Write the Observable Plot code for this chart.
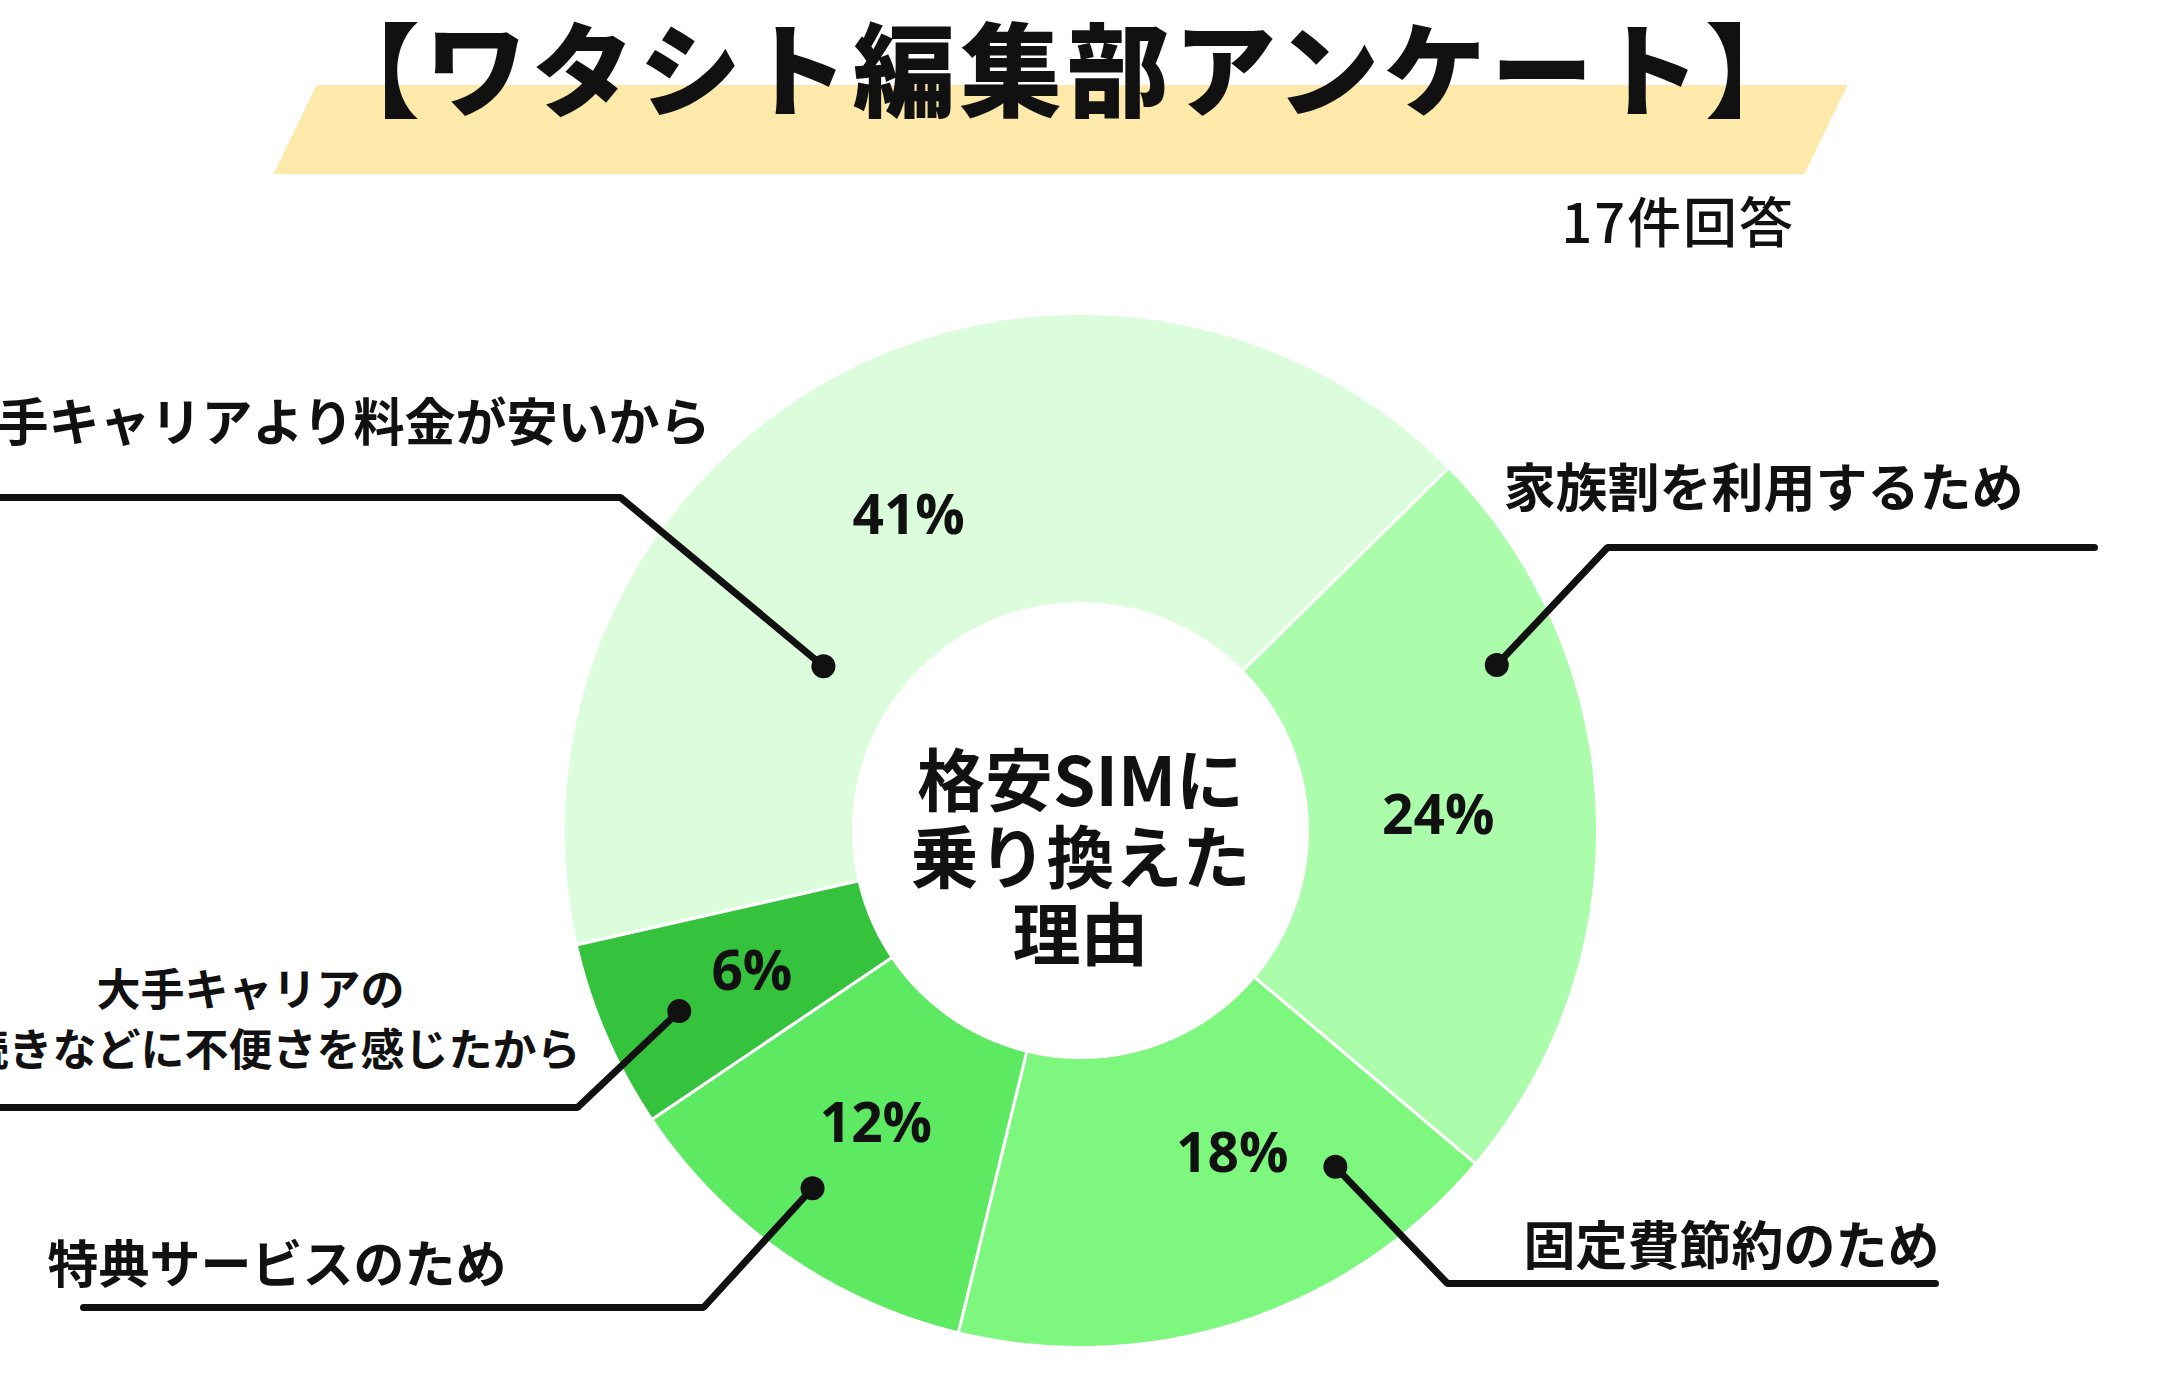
<!DOCTYPE html>
<html>
<head>
<meta charset="utf-8">
<script src="https://cdn.jsdelivr.net/npm/d3@7"></script>
<script src="https://cdn.jsdelivr.net/npm/@observablehq/plot@0.6"></script>
<style>
  html, body { margin: 0; padding: 0; background: #fff; overflow: hidden; }
  #page { position: relative; width: 2160px; height: 1382px; overflow: hidden; font-family: "Noto Sans CJK JP", "Noto Sans", sans-serif; color: #111; }
  #header { position: relative; width: 2160px; height: 280px; }
  #band { position: absolute; left: 295px; top: 85px; width: 1531px; height: 89px; background: #fde9a9; transform: skewX(-26deg); }
  #title { position: absolute; left: 0; width: 2130px; top: 4px; text-align: center; font-size: 102px; font-weight: 900; letter-spacing: 5px; line-height: 1.2; white-space: nowrap; }
  #count { position: absolute; right: 365px; top: 188px; font-size: 54px; font-weight: 500; letter-spacing: 2px; line-height: 1.2; white-space: nowrap; }
  #chart svg { display: block; }
</style>
</head>
<body>
<div id="page">
  <div id="header">
    <div id="band"></div>
    <div id="title"></div>
    <div id="count"></div>
  </div>
  <div id="chart"></div>
</div>
<script>
// ---- data ----
const title = "【ワタシト編集部アンケート】";
const responseCount = 17;
const countSuffix = "件回答";
const centerTitle = "格安SIMに\n乗り換えた\n理由";
const reasons = [
  "大手キャリアより料金が安いから",
  "家族割を利用するため",
  "固定費節約のため",
  "特典サービスのため",
  "大手キャリアの\n手続きなどに不便さを感じたから"
];
const counts = [7, 4, 3, 2, 1];

// ---- styles / layout ----
const palette = ["#dbfddb", "#abfcab", "#7ef77f", "#5de961", "#35c23c"];
const CX = 1080, CY = 830, R_OUT = 517, R_IN = 227;
const START = 257.2 * Math.PI / 180;
const pctLabelT = [0.5, 0.5, 0.39, 0.5, 0.5];
const pctLabelR = 358;
// leader geometry: dot position as fraction within slice and radius, elbow point, line end x
const leaderLayout = [
  {t: 0.306, r: 305, ex: 620, ey: 497, endX: -20},
  {t: 0.27, r: 448, ex: 1607, ey: 547, endX: 2094},
  {t: 0.20, r: 422, ex: 1447, ey: 1283, endX: 1935},
  {t: 0.547, r: 447, ex: 703, ey: 1307, endX: 83},
  {t: 0.46, r: 440, ex: 577, ey: 1107, endX: -20}
];
const labelLayout = [
  {x: 710, y: 418, anchor: "end", size: 51},
  {x: 1503, y: 484, anchor: "start", size: 52},
  {x: 1523, y: 1242, anchor: "start", size: 52},
  {x: 47, y: 1260, anchor: "start", size: 51},
  {x: 250, y: 1016, anchor: "middle", size: 44}
];

document.getElementById("title").textContent = title;
document.getElementById("count").textContent = responseCount + countSuffix;

const total = d3.sum(counts);
const fmt = d3.format(".0%");
const arcs = d3.pie().sort(null).startAngle(START).endAngle(START + 2 * Math.PI)(counts);
const polar = (a, r) => [CX + r * Math.sin(a), CY - r * Math.cos(a)];

// slice polygons
const slicePts = [];
arcs.forEach((d, i) => {
  const n = Math.max(8, Math.ceil((d.endAngle - d.startAngle) / (Math.PI / 360)));
  for (let k = 0; k <= n; k++) {
    const a = d.startAngle + (d.endAngle - d.startAngle) * k / n;
    const [x, y] = polar(a, R_OUT);
    slicePts.push({i, x, y, fill: palette[i]});
  }
  for (let k = n; k >= 0; k--) {
    const a = d.startAngle + (d.endAngle - d.startAngle) * k / n;
    const [x, y] = polar(a, R_IN);
    slicePts.push({i, x, y, fill: palette[i]});
  }
});

// percent labels
const pctLabels = arcs.map((d, i) => {
  const a = d.startAngle + (d.endAngle - d.startAngle) * pctLabelT[i];
  const [x, y] = polar(a, pctLabelR);
  return {x, y, text: fmt(counts[i] / total)};
});

// leaders
const dots = [];
const leaderPts = [];
arcs.forEach((d, i) => {
  const L = leaderLayout[i];
  const a = d.startAngle + (d.endAngle - d.startAngle) * L.t;
  const [x, y] = polar(a, L.r);
  dots.push({x, y});
  leaderPts.push({i, x, y});
  leaderPts.push({i, x: L.ex, y: L.ey});
  leaderPts.push({i, x: L.endX, y: L.ey});
});

const labels = reasons.map((r, i) => ({text: r, ...labelLayout[i]}));

const font = '"Noto Sans CJK JP", "Noto Sans", sans-serif';
const chart = Plot.plot({
  width: 2160,
  height: 1102,
  margin: 0,
  x: {domain: [0, 2160], range: [0, 2160], axis: null},
  y: {domain: [280, 1382], range: [0, 1102], axis: null},
  color: {type: "identity"},
  style: {background: "#fff", fontFamily: font},
  marks: [
    Plot.line(slicePts, {x: "x", y: "y", z: "i", fill: "fill", stroke: "#fff", strokeWidth: 3, curve: "linear-closed"}),
    Plot.text([centerTitle], {x: () => CX, y: () => CY + 28, text: d => d, fontSize: 68, fontWeight: 700, lineHeight: 1.13, fill: "#111"}),
    Plot.text(pctLabels, {x: "x", y: "y", text: "text", fontSize: 55, fontWeight: 700, fontFamily: '"Open Sans", sans-serif', fill: "#111"}),
    Plot.line(leaderPts, {x: "x", y: "y", z: "i", stroke: "#111", strokeWidth: 7, strokeLinejoin: "miter", strokeLinecap: "round"}),
    Plot.dot(dots, {x: "x", y: "y", r: 12, fill: "#111"}),
    ...labels.map(l => Plot.text([l], {x: "x", y: "y", text: "text", textAnchor: l.anchor, fontSize: l.size, fontWeight: 700, lineHeight: 1.36, fill: "#111"}))
  ]
});
document.getElementById("chart").appendChild(chart);
</script>
</body>
</html>
